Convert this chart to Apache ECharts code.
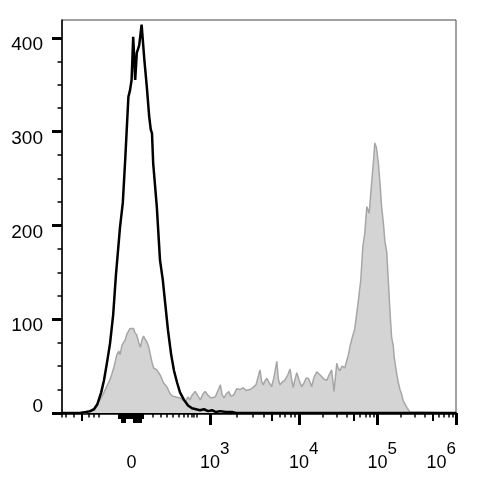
<!DOCTYPE html>
<html>
<head>
<meta charset="utf-8">
<script src="https://cdn.jsdelivr.net/npm/echarts@6/dist/echarts.min.js"></script>
<style>
html,body{margin:0;padding:0;background:#fff;}
#chart{width:478px;height:481px;}
</style>
</head>
<body>
<div id="chart"></div>
<script>
// ---- Data (x in display channels 0..985 of the biexponential axis, y in counts) ----
const blackX = [0,45,60,70,80,88,98,105,113,120,128,135,145,152,158,166,170,174,178,183,187,193,199,206,212,218,222,225,228,237,245,252,258,265,273,280,288,295,305,315,325,335,345,355,365,375,385,395,410,425,435,985];
const blackY = [0,0,1,2,4,9,22,35,55,74,105,148,198,224,270,337,344,355,401,355,384,392,414,376,348,316,302,298,266,220,163,142,117,88,62,45,32,22,14,8,5,4,3,4,2,3,1,2,1,1,0,0];

const grayX = [0,57,70,79,87,95,105,115,122,130,137,142,145,150,158,162,170,174,179,182,187,192,196,200,204,207,212,217,221,225,229,237,246,254,262,271,277,285,295,302,308,315,320,325,333,340,346,352,358,365,372,377,383,390,396,400,405,410,417,422,429,437,445,453,460,470,477,485,495,499,503,507,512,517,524,530,537,541,545,551,557,564,570,574,578,582,587,592,599,605,610,616,620,624,630,637,642,649,655,662,667,674,680,687,690,695,700,707,712,716,720,724,728,732,737,741,747,752,757,762,765,768,774,779,782,786,791,795,799,804,807,812,816,820,824,828,831,837,841,845,849,853,857,862,866,870,875,985];
const grayY = [0,0,1,4,9,14,22,31,38,49,62,66,62,72,78,84,90,89,90,86,83,75,70,78,82,79,76,70,62,54,48,46,40,32,28,20,18,17,16,14,12,17,14,19,23,18,14,20,23,19,16,18,17,24,30,20,16,20,23,18,19,26,25,27,24,25,27,30,46,34,30,34,37,33,28,38,55,36,30,33,35,40,47,36,27,35,43,36,28,32,37,37,33,28,38,44,42,39,36,35,40,46,23,53,48,45,50,48,56,62,71,78,84,90,107,120,142,177,192,220,222,213,245,270,288,283,266,245,220,200,184,171,139,108,81,72,58,41,32,25,20,13,10,6,4,1,0,0];

// ---- Axis definitions ----
const decadeExps = [3, 4, 5, 6];
const decadePos = [370, 592.5, 789, 985];
const zeroPos = 174;
const linearMinorTicks = [0, 10, 30, 67.5, 80, 92.5, 227.5, 247.5, 262.5, 277.5, 292.5, 305, 315, 325, 330, 337.5];
const linearMediumTicks = [50];
const zeroClusterShort = [143,146,149,152,155,158,161,164,167,170,173,176,179,182,185,188,191,194,197,200,202];
const zeroClusterTall = [149,152,155,158,179,182,185,188,191,194,197];
const yLabels = [0, 100, 200, 300, 400];
const yMinorTicks = [25,50,75,125,150,175,225,250,275,325,350,375];

// log-spaced minor ticks between decades
const logMinor = [], logMedium = [];
for (let i = 0; i < decadePos.length - 1; i++) {
  const a = decadePos[i], b = decadePos[i + 1];
  for (let k = 2; k <= 9; k++) {
    const p = a + Math.log10(k) * (b - a);
    if (k === 5) logMedium.push(p); else logMinor.push(p);
  }
}

const xLabelVals = [zeroPos].concat(decadePos);

function zip(xs, ys) { return xs.map((x, i) => [x, ys[i]]); }

const XMIN = 0, XMAX = 985, YMAX = 419;
const FONT = 'Liberation Sans';
const FSX = 18, FSS = 17, FSY = 19;

const baseRich = {
  b: { fontSize: FSX, fontFamily: FONT, color: '#000', lineHeight: 22, verticalAlign: 'bottom' },
  s: { fontSize: FSS, fontFamily: FONT, color: '#000', lineHeight: 20, padding: [0, 0, 14, 0], verticalAlign: 'bottom' },
  hb: { fontSize: FSX, fontFamily: FONT, color: 'rgba(0,0,0,0)', lineHeight: 22, verticalAlign: 'bottom' },
  hs: { fontSize: FSS, fontFamily: FONT, color: 'rgba(0,0,0,0)', lineHeight: 20, padding: [0, 0, 14, 0], verticalAlign: 'bottom' }
};

function xLabelFormatter(v) {
  if (Math.abs(v - zeroPos) < 0.5) return '{hs|3}{b|0}{hs|3}';
  for (let i = 0; i < decadePos.length; i++) {
    if (Math.abs(v - decadePos[i]) < 0.5) {
      const e = decadeExps[i];
      if (i === decadePos.length - 1) return '{b|10}{s|' + e + '}{hb|10}{hs|' + e + '}';
      return '{hs|' + e + '}{b|10}{s|' + e + '}';
    }
  }
  return '';
}

function auxX(ticks, len, width) {
  return {
    type: 'value', min: XMIN, max: XMAX, position: 'bottom', offset: 0,
    axisLine: { show: false },
    splitLine: { show: false },
    axisLabel: { show: false },
    axisTick: { show: true, customValues: ticks, length: len, lineStyle: { color: '#000', width: width } }
  };
}

const chart = echarts.init(document.getElementById('chart'), null, { renderer: 'canvas' });
chart.setOption({
  animation: false,
  backgroundColor: '#fff',
  grid: { left: 62, top: 20, width: 394, height: 393, outerBoundsMode: 'none', containLabel: false, show: true, borderColor: '#444', borderWidth: 1, backgroundColor: 'transparent' },
  xAxis: [
    {
      type: 'value', min: XMIN, max: XMAX, position: 'bottom',
      axisLine: { show: true, lineStyle: { color: '#000', width: 2.5 } },
      splitLine: { show: false },
      axisTick: { show: true, customValues: decadePos, length: 12, lineStyle: { color: '#000', width: 3 } },
      axisLabel: { show: true, customValues: xLabelVals, margin: 37, fontSize: FSX, fontFamily: FONT, color: '#000', formatter: xLabelFormatter, rich: baseRich, hideOverlap: false }
    },
    auxX(logMedium.concat(linearMediumTicks), 8, 2),
    auxX(logMinor.concat(linearMinorTicks), 4.5, 1.5),
    auxX(zeroClusterShort, 6, 2),
    auxX(zeroClusterTall, 10, 2)
  ],
  yAxis: [
    {
      type: 'value', min: 0, max: YMAX, position: 'left',
      axisLine: { show: true, lineStyle: { color: '#000', width: 1.5 } },
      splitLine: { show: false },
      axisTick: { show: true, customValues: yLabels, length: 10, lineStyle: { color: '#000', width: 3 } },
      axisLabel: {
        show: true, customValues: yLabels, margin: 19, fontSize: FSY, fontFamily: FONT, color: '#000',
        formatter: function (v) { return v === 0 ? '{z|0}' : '{u|' + v + '}'; },
        rich: {
          u: { fontSize: FSY, fontFamily: FONT, color: '#000', padding: [14, 0, 0, 0] },
          z: { fontSize: FSY, fontFamily: FONT, color: '#000', padding: [0, 0, 13, 0] }
        }
      }
    },
    {
      type: 'value', min: 0, max: YMAX, position: 'left', offset: 0,
      axisLine: { show: false },
      splitLine: { show: false },
      axisLabel: { show: false },
      axisTick: { show: true, customValues: yMinorTicks, length: 4.5, lineStyle: { color: '#000', width: 1.5 } }
    }
  ],
  series: [
    {
      type: 'line', xAxisIndex: 0, yAxisIndex: 0, data: zip(grayX, grayY),
      symbol: 'none', smooth: false, z: 2,
      lineStyle: { color: '#a6a6a6', width: 1.5 },
      areaStyle: { color: '#d4d4d4', opacity: 1 }
    },
    {
      type: 'line', xAxisIndex: 0, yAxisIndex: 0, data: zip(blackX, blackY),
      symbol: 'none', smooth: false, z: 3,
      lineStyle: { color: '#000', width: 2.5 }
    }
  ]
});
</script>
</body>
</html>
